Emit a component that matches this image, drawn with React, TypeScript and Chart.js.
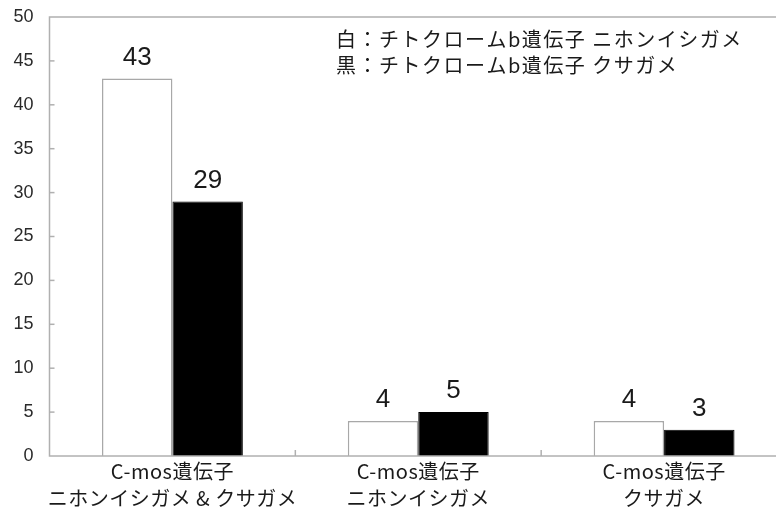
import React, { useEffect, useRef } from "react";
import { Chart, registerables } from "chart.js";

Chart.register(...registerables);

const categories: string[][] = [
  ["C-mos遺伝子", "ニホンイシガメ & クサガメ"],
  ["C-mos遺伝子", "ニホンイシガメ"],
  ["C-mos遺伝子", "クサガメ"],
];
const whiteSeries: number[] = [43, 4, 4];
const blackSeries: number[] = [29, 5, 3];
const legendLines: string[] = [
  "白：チトクロームb遺伝子 ニホンイシガメ",
  "黒：チトクロームb遺伝子 クサガメ",
];
const yMax = 50;
const yStep = 5;

const NUM_FONT = "'Liberation Sans', Arial, sans-serif";
const JP_FONT = "'Noto Sans CJK JP', 'Liberation Sans', sans-serif";

const decorPlugin = {
  id: "decor",
  afterDatasetsDraw(chart: any) {
    const { ctx, chartArea } = chart;
    const x = chart.scales.x;
    const y = chart.scales.y;
    ctx.save();
    // plot frame
    ctx.strokeStyle = "#b0b0b0";
    ctx.lineWidth = 1.5;
    ctx.strokeRect(chartArea.left, chartArea.top, chartArea.right - chartArea.left, chartArea.bottom - chartArea.top);
    // inward y ticks
    for (let v = yStep; v < yMax; v += yStep) {
      const py = y.getPixelForValue(v);
      ctx.beginPath();
      ctx.moveTo(chartArea.left, py);
      ctx.lineTo(chartArea.left + 5, py);
      ctx.stroke();
    }
    // category dividers on x axis
    for (let i = 0; i < categories.length - 1; i++) {
      const px = (x.getPixelForValue(i) + x.getPixelForValue(i + 1)) / 2;
      ctx.beginPath();
      ctx.moveTo(px, chartArea.bottom);
      ctx.lineTo(px, chartArea.bottom - 6);
      ctx.stroke();
    }
    // value labels
    ctx.fillStyle = "#1a1a1a";
    ctx.font = `26px ${NUM_FONT}`;
    ctx.textAlign = "center";
    ctx.textBaseline = "bottom";
    chart.data.datasets.forEach((ds: any, di: number) => {
      const meta = chart.getDatasetMeta(di);
      meta.data.forEach((bar: any, i: number) => {
        ctx.fillText(String(ds.data[i]), bar.x, bar.y - 8);
      });
    });
    // x category labels
    ctx.font = `20px ${JP_FONT}`;
    (ctx as any).letterSpacing = "0.5px";
    ctx.textBaseline = "middle";
    categories.forEach((lines, i) => {
      const px = x.getPixelForValue(i);
      lines.forEach((t, li) => {
        ctx.fillText(t, px, chartArea.bottom + 15 + li * 27);
      });
    });
    // legend text
    ctx.font = `20px ${JP_FONT}`;
    (ctx as any).letterSpacing = "1.5px";
    ctx.textAlign = "left";
    ctx.fillText(legendLines[0], 336, 39);
    ctx.fillText(legendLines[1], 336, 65);
    (ctx as any).letterSpacing = "0px";
    ctx.restore();
  },
};

export default function App() {
  const ref = useRef<HTMLCanvasElement>(null);
  useEffect(() => {
    if (!ref.current) return;
    const chart = new Chart(ref.current, {
      type: "bar",
      data: {
        labels: categories,
        datasets: [
          {
            label: "白",
            data: whiteSeries,
            backgroundColor: "#ffffff",
            borderColor: "#a8a8a8",
            borderWidth: 1.5,
            barPercentage: 1,
            categoryPercentage: 0.573,
          },
          {
            label: "黒",
            data: blackSeries,
            backgroundColor: "#000000",
            borderColor: "#000000",
            borderWidth: 1,
            barPercentage: 1,
            categoryPercentage: 0.573,
          },
        ],
      },
      options: {
        responsive: false,
        animation: false,
        layout: { padding: { top: 17, right: 13, left: 0, bottom: 0 } },
        plugins: { legend: { display: false }, tooltip: { enabled: false } },
        scales: {
          x: {
            grid: { display: false, drawTicks: false, tickLength: 0 },
            border: { display: false },
            ticks: { display: false },
            afterFit: (s: any) => {
              s.height = 69;
              s.paddingLeft = 0;
              s.paddingRight = 0;
            },
          },
          y: {
            min: 0,
            max: yMax,
            grid: { display: false, drawTicks: false, tickLength: 0 },
            border: { display: false },
            ticks: {
              stepSize: yStep,
              color: "#2a2a2a",
              font: { family: NUM_FONT, size: 18 },
              padding: 16,
            },
            afterFit: (s: any) => {
              s.width = 49.5;
              s.paddingTop = 0;
              s.paddingBottom = 0;
            },
          },
        },
      },
      plugins: [decorPlugin],
    });
    return () => chart.destroy();
  }, []);
  return (
    <div style={{ position: "fixed", left: 0, top: 0, width: 776, height: 525, overflow: "hidden", background: "#fff" }}>
      <canvas ref={ref} width={800} height={525} style={{ width: 800, height: 525, display: "block" }} />
    </div>
  );
}
